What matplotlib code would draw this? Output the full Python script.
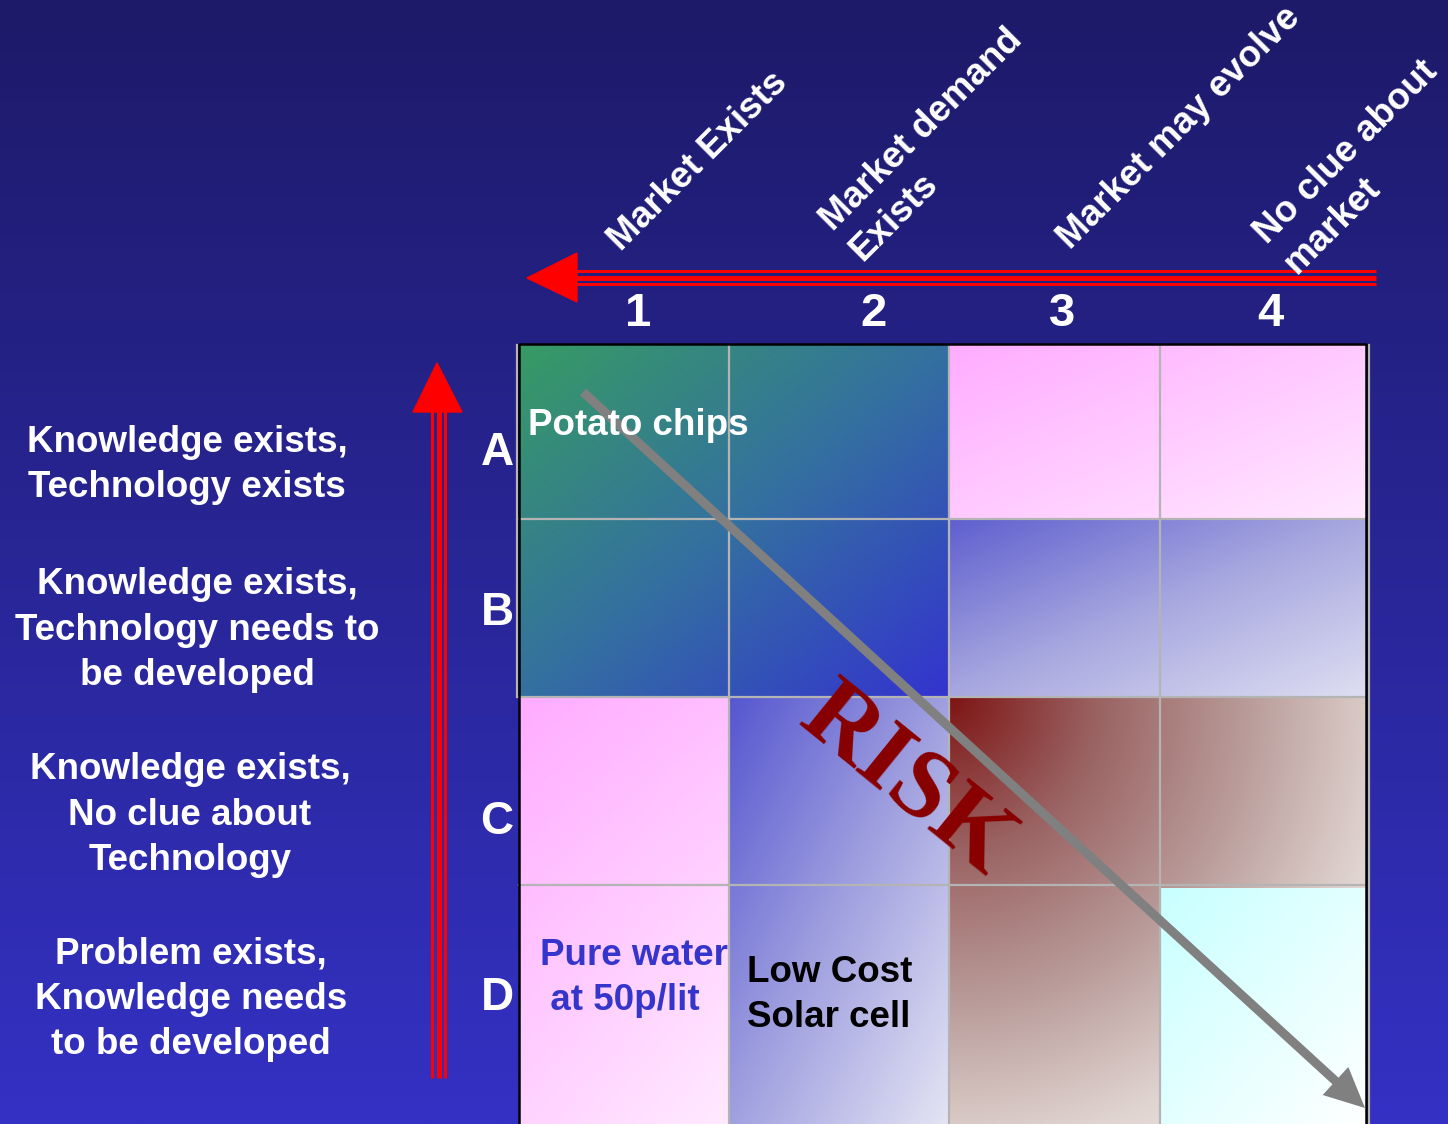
import numpy as np
import matplotlib
matplotlib.use('Agg')
from matplotlib import pyplot as plt
from matplotlib.patches import Polygon

# ---- content ----
market_labels = ['Market Exists', 'Market demand\nExists', 'Market may evolve', 'No clue about\nmarket']
market_levels = ['1', '2', '3', '4']
tech_levels = ['A', 'B', 'C', 'D']
tech_labels = ['Knowledge exists,\nTechnology exists',
               'Knowledge exists,\nTechnology needs to\nbe developed',
               'Knowledge exists,\nNo clue about\nTechnology',
               'Problem exists,\nKnowledge needs\nto be developed']
cell_notes = ['Potato chips', 'Pure water\n at 50p/lit', 'Low Cost\nSolar cell']
risk_label = 'RISK'

# ---- layout (pixel coordinates, y down) ----
W, H = 1448, 1124
cols = [519, 729, 949, 1160, 1366]
rows = [345, 519, 697, 885, 1124]
FONT = 'Liberation Sans'


def hexrgb(h):
    h = h.lstrip('#')
    return np.array([int(h[i:i + 2], 16) for i in (0, 2, 4)]) / 255.0


def gradient(ax, x0, x1, y0, y1, stops, z=1, mode='diag'):
    n = 240
    u = np.linspace(0, 1, n)
    U, V = np.meshgrid(u, u)
    if mode == 'vertical':
        t = V
    elif mode == 'radial':
        t = np.clip(np.sqrt(U ** 2 + V ** 2) / np.sqrt(2), 0, 1)
    else:
        t = (U + V) / 2
    pos = np.linspace(0, 1, len(stops))
    cs = np.array([hexrgb(s) for s in stops])
    img = np.stack([np.interp(t, pos, cs[:, k]) for k in range(3)], axis=-1)
    ax.imshow(img, extent=(x0, x1, y1, y0), interpolation='bilinear',
              aspect='auto', zorder=z)


fig = plt.figure(figsize=(W / 100, H / 100), dpi=100)
ax = fig.add_axes([0, 0, 1, 1])

# background
gradient(ax, 0, W, 0, H, ['#1d1a69', '#3431c4'], z=0, mode='vertical')

# matrix cells
gradient(ax, cols[0], cols[2], rows[0], rows[2], ['#379b64', '#3470a0', '#3333cf'])
gradient(ax, cols[2], cols[4], rows[0], rows[1], ['#ffacff', '#ffe8ff'])
gradient(ax, cols[2], cols[4], rows[1], rows[2], ['#5f5fcf', '#a8a8e0', '#dedef2'])
gradient(ax, cols[0], cols[1], rows[2], rows[3], ['#ffacff', '#ffd2ff'])
gradient(ax, cols[0], cols[1], rows[3], rows[4], ['#ffbcff', '#ffeaff'])
gradient(ax, cols[1], cols[2], rows[2], rows[4], ['#5656d0', '#a0a0e0', '#e4e4f4'])
gradient(ax, cols[2], cols[4], rows[2], rows[4],
         ['#7e1414', '#9a6262', '#b89a98', '#e0d4d0', '#f4f0ee'], mode='radial')
gradient(ax, cols[3], cols[4], rows[3] + 3, rows[4], ['#c8ffff', '#ffffff'], z=1.5)

# grid lines
grid_kw = dict(color='#b4b4b4', lw=1.6, zorder=2)
for x in cols[1:4]:
    ax.plot([x, x], [rows[0], rows[4]], **grid_kw)
for y in rows[1:4]:
    ax.plot([cols[0], cols[4]], [y, y], **grid_kw)
ax.plot([517, 517], [rows[0], rows[2]], **grid_kw)
ax.plot([cols[4] + 3, cols[4] + 3], [rows[0], rows[4]], **grid_kw)
ax.plot([cols[0], cols[0], cols[4], cols[4]], [rows[4], 344, 344, rows[4]],
        color='black', lw=1.8, zorder=3)

# red market arrow (points left)
for y, lw in [(271, 3), (277.5, 5), (284, 3)]:
    ax.plot([575, 1376], [y, y], color='#ff0000', lw=lw * 0.72,
            solid_capstyle='butt', zorder=3)
ax.add_patch(Polygon([(527, 278), (577, 253), (577, 302)], closed=True,
                     color='#ff0000', zorder=3))

# red technology arrow (points up)
for x, lw in [(431.5, 3), (438.5, 5), (444.5, 3)]:
    ax.plot([x, x], [410, 1078], color='#ff0000', lw=lw * 0.72,
            solid_capstyle='butt', zorder=3)
ax.add_patch(Polygon([(437, 363), (413, 412), (462, 412)], closed=True,
                     color='#ff0000', zorder=3))

# market column headers (anchored at the start of the last line's baseline)
header_pos = [(621, 252), (858, 257), (1070, 250), (1292, 270)]
for (x, y), lab in zip(header_pos, market_labels):
    ax.text(x, y, lab, rotation=45, rotation_mode='anchor', ha='left',
            va='baseline', multialignment='left', linespacing=1.25,
            color='white', fontsize=26.5, fontweight='bold', family=FONT, zorder=4)

num_x = [638, 873, 1062, 1270]
for x, lab in zip(num_x, market_levels):
    ax.text(x, 326, lab, ha='center', va='baseline', color='white',
            fontsize=34, fontweight='bold', family=FONT, zorder=4)

# technology rows
letter_y = [465, 625, 834, 1010]
for y, lab in zip(letter_y, tech_levels):
    ax.text(497, y, lab, ha='center', va='baseline', color='white',
            fontsize=33, fontweight='bold', family=FONT, zorder=4)

desc_pos = [(187, 497), (197, 685), (190, 870), (191, 1054)]
for (x, y), lab in zip(desc_pos, tech_labels):
    ax.text(x, y, lab, ha='center', va='baseline', multialignment='center',
            linespacing=1.38, color='white', fontsize=26.5, fontweight='bold',
            family=FONT, zorder=4)

# notes inside cells
note_style = [((528, 435), 'white'), ((540, 1010), '#3535cc'), ((747, 1027), 'black')]
for ((x, y), c), lab in zip(note_style, cell_notes):
    ax.text(x, y, lab, ha='left', va='baseline', multialignment='left',
            linespacing=1.36, color=c, fontsize=26.5, fontweight='bold',
            family=FONT, zorder=6)

# risk diagonal
ax.arrow(583, 392, 1365 - 583, 1108 - 392, width=9, head_width=38,
         head_length=40, length_includes_head=True, color='#808080', lw=0,
         zorder=5)
ax.text(906, 782, risk_label, rotation=-39, rotation_mode='anchor',
        ha='center', va='center', color='#880000', fontsize=72,
        fontweight='bold', family='Liberation Serif', zorder=4)

ax.set_xlim(0, W)
ax.set_ylim(H, 0)
ax.axis('off')
fig.savefig('out.png', dpi=100)
